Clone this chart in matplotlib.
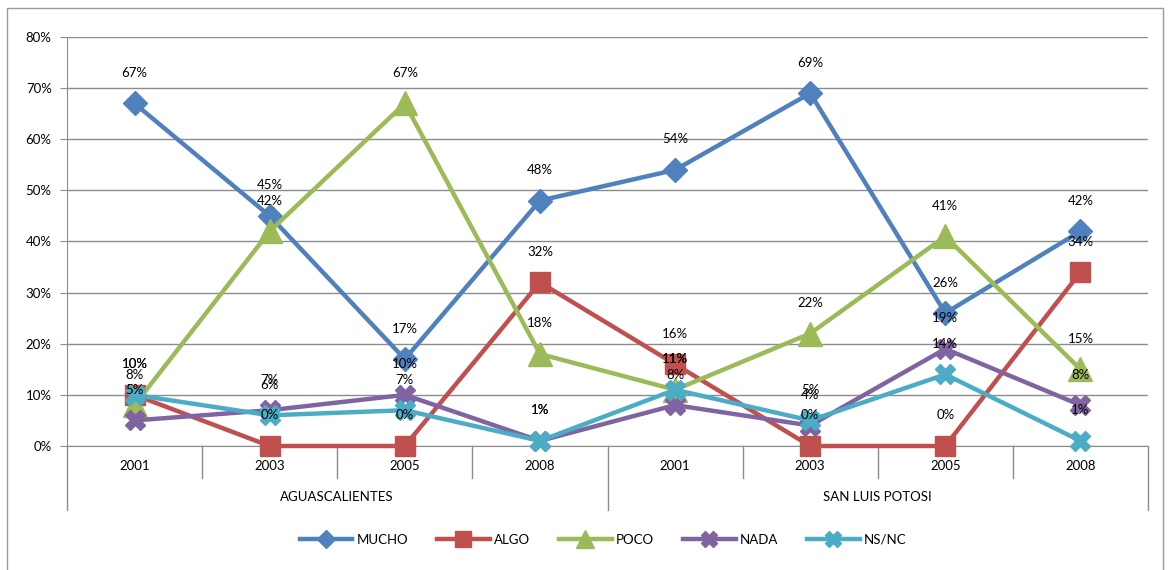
import matplotlib as mpl
mpl.use('agg')
import matplotlib.pyplot as plt
from matplotlib.patches import Rectangle
from matplotlib.transforms import blended_transform_factory

plt.rcParams['font.family'] = ['Lato', 'DejaVu Sans']

# data (percent)
years = ['2001', '2003', '2005', '2008', '2001', '2003', '2005', '2008']
states = ['AGUASCALIENTES', 'SAN LUIS POTOSI']
mucho = [67, 45, 17, 48, 54, 69, 26, 42]
algo = [10, 0, 0, 32, 16, 0, 0, 34]
poco = [8, 42, 67, 18, 11, 22, 41, 15]
nada = [5, 7, 10, 1, 8, 4, 19, 8]
nsnc = [10, 6, 7, 1, 11, 5, 14, 1]

series = [
    ('MUCHO', mucho, '#4F81BD', 'D', 12),
    ('ALGO', algo, '#C0504D', 's', 15),
    ('POCO', poco, '#9BBB59', '^', 17),
    ('NADA', nada, '#8064A2', 'X', 14),
    ('NS/NC', nsnc, '#4BACC6', 'X', 14),
]

fig = plt.figure(figsize=(11.7, 5.7), dpi=100)
ax = fig.add_axes([67/1170, 1-446/570, (1148-67)/1170, (446-37)/570])

# outer chart border
fig.patches.append(Rectangle((7/1170, -0.01), 1156/1170, (570-8)/570 + 0.01,
                             transform=fig.transFigure, fill=False,
                             edgecolor='#9a9a9a', linewidth=1))

x = list(range(len(years)))
for name, vals, col, mk, ms in series:
    ax.plot(x, vals, color=col, linewidth=3.2, marker=mk, markersize=ms,
            markeredgecolor=col, markerfacecolor=col, label=name, zorder=3, clip_on=False)
    for xi, v in zip(x, vals):
        ax.annotate('%d%%' % v, (xi, v), xytext=(0, 22), textcoords='offset points',
                    ha='center', va='center', fontsize=9.5, zorder=5)

ax.set_xlim(-0.5, len(years) - 0.5)
ax.set_ylim(0, 80)
ax.set_yticks(range(0, 81, 10))
ax.set_yticklabels(['%d%%' % t for t in range(0, 81, 10)], fontsize=9.5)
ax.yaxis.grid(True, color='#8c8c8c', linewidth=1)
ax.set_axisbelow(True)
ax.set_xticks([])
ax.tick_params(axis='y', length=5, color='#8c8c8c', pad=6)
for s in ['top', 'right']:
    ax.spines[s].set_visible(False)
ax.spines['left'].set_color('#8c8c8c')
ax.spines['bottom'].set_color('#8c8c8c')

# two level category axis
tr = blended_transform_factory(ax.transData, ax.transAxes)
h = 446 - 37
for k in range(len(years) + 1):
    xb = k - 0.5
    depth = 64 if k % 4 == 0 else 32
    ax.plot([xb, xb], [0, -depth / h], transform=tr, color='#8c8c8c', linewidth=1, clip_on=False)
for xi, yr in zip(x, years):
    ax.text(xi, -20 / h, yr, transform=tr, ha='center', va='center', fontsize=9.5)
for i, st in enumerate(states):
    ax.text(1.5 + 4 * i, -51 / h, st, transform=tr, ha='center', va='center', fontsize=9.5)

fig.legend(loc='center', bbox_to_anchor=(603/1170, 1-540/570), ncol=5, frameon=False,
           fontsize=9.5, handlelength=4, columnspacing=2.2, handletextpad=0.3, markerscale=0.8)

fig.savefig('out.png', dpi=100)
